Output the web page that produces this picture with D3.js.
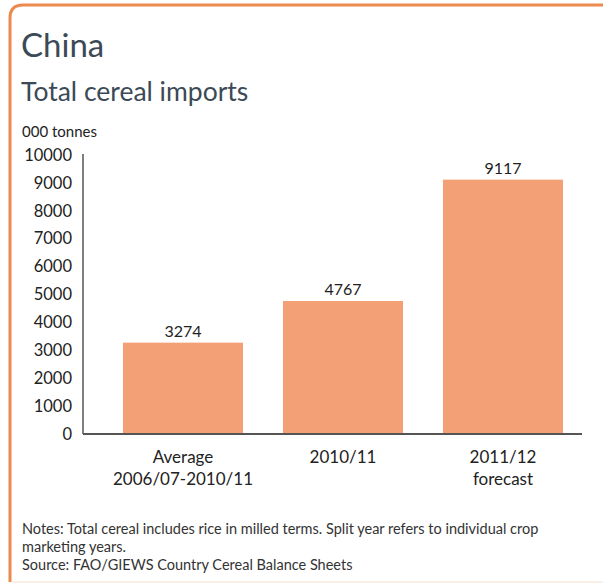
<!DOCTYPE html>
<html><head><meta charset="utf-8">
<script src="https://cdn.jsdelivr.net/npm/d3@7"></script>
<style>body{margin:0;background:#fff;} svg{display:block;}</style>
</head><body>
<svg id="c" width="603" height="587"></svg>
<script>
const categories = [["Average","2006/07-2010/11"],["2010/11"],["2011/12","forecast"]];
const values = [3274, 4767, 9117];
const yTicks = [0,1000,2000,3000,4000,5000,6000,7000,8000,9000,10000];
const title = "China";
const subtitle = "Total cereal imports";
const unit = "000 tonnes";
const notes = ["Notes: Total cereal includes rice in milled terms. Split year refers to individual crop","marketing years.","Source: FAO/GIEWS Country Cereal Balance Sheets"];

const svg = d3.select("#c");
const font = "Lato, 'Open Sans', sans-serif";
const orange = "#EC8A4E";

// frame
svg.append("path").attr("d","M10,582 L10,18 Q10,5 23,5 L603,5")
  .attr("fill","none").attr("stroke",orange).attr("stroke-width",3);
svg.append("path").attr("d","M12,582 L603,582").attr("stroke","#f8e8de").attr("stroke-width",1.5);

svg.append("text").attr("x",21).attr("y",57).text(title)
  .attr("font-family",font).attr("font-size",33).attr("fill","#3b4a56");
svg.append("text").attr("x",21).attr("y",101).text(subtitle)
  .attr("font-family",font).attr("font-size",26.5).attr("fill","#3b4a56");
svg.append("text").attr("x",22).attr("y",137).text(unit)
  .attr("font-family",font).attr("font-size",15).attr("fill","#222");

const y = d3.scaleLinear().domain([0,10000]).range([434,155]);
const x = d3.scaleBand().domain(d3.range(values.length)).range([103,583]).paddingInner(0.25).paddingOuter(0.125);

const yAxis = svg.append("g").attr("transform","translate(83,0)")
  .call(d3.axisLeft(y).tickValues(yTicks).tickSize(0).tickPadding(11).tickFormat(d3.format("d")));
yAxis.select(".domain").attr("stroke","#555").attr("stroke-width",1.5).attr("d","M0,154V434");
yAxis.selectAll("text").attr("font-family",font).attr("font-size",16.5).attr("fill","#222");

svg.append("g").selectAll("rect").data(values).join("rect")
  .attr("x",(d,i)=>x(i)).attr("width",x.bandwidth())
  .attr("y",d=>y(d)).attr("height",d=>y(0)-y(d)).attr("fill","#F3A077");

svg.append("line").attr("x1",83).attr("x2",582).attr("y1",434).attr("y2",434)
  .attr("stroke","#555").attr("stroke-width",2);

svg.append("g").selectAll("text").data(values).join("text")
  .attr("x",(d,i)=>x(i)+x.bandwidth()/2).attr("y",d=>y(d)-6)
  .attr("text-anchor","middle").text(d=>d)
  .attr("font-family",font).attr("font-size",16).attr("fill","#222");

const cat = svg.append("g").selectAll("text").data(categories).join("text")
  .attr("text-anchor","middle").attr("font-family",font).attr("font-size",17).attr("fill","#222");
cat.selectAll("tspan").data((d,i)=>d.map(s=>({s,i}))).join("tspan")
  .attr("x",d=>x(d.i)+x.bandwidth()/2).attr("y",(d,j)=>463+j*22).text(d=>d.s);

svg.append("g").selectAll("text").data(notes).join("text")
  .attr("x",22).attr("y",(d,i)=>534+i*18).text(d=>d)
  .attr("font-family",font).attr("font-size",14.5).attr("fill","#333");
</script>
</body></html>
